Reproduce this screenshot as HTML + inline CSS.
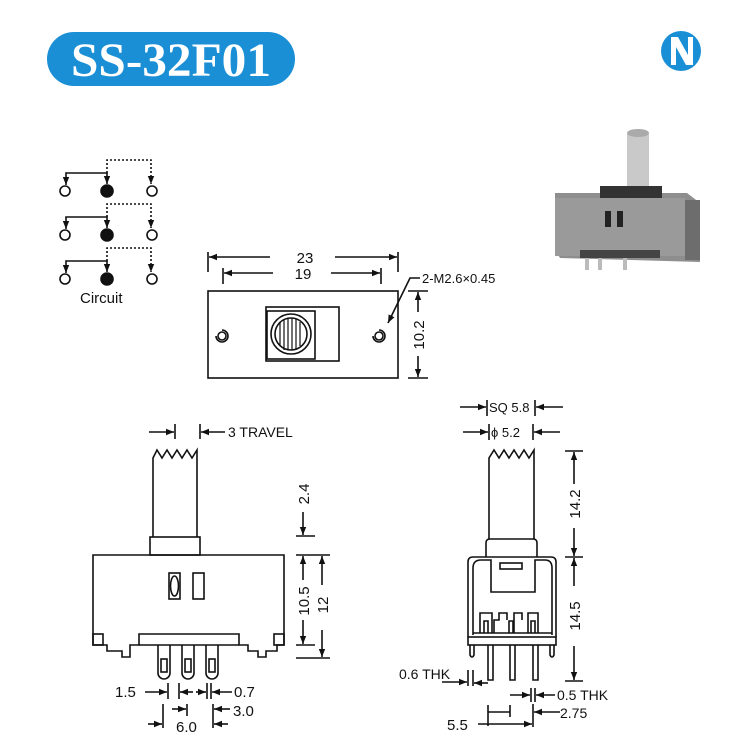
<!DOCTYPE html>
<html><head><meta charset="utf-8"><style>
html,body{margin:0;padding:0;background:#fff;}
svg{display:block;}
text{font-family:"Liberation Sans",sans-serif;fill:#111;}
</style></head><body>
<svg width="735" height="744" viewBox="0 0 735 744" xmlns="http://www.w3.org/2000/svg">
<defs>
<marker id="a" viewBox="0 0 10 10" refX="10" refY="5" markerWidth="7" markerHeight="5" orient="auto-start-reverse"><path d="M0,1 L10,5 L0,9z" fill="#111"/></marker>
</defs>
<!-- title -->
<rect x="47" y="32" width="248" height="54" rx="27" fill="#1a8fd6"/>
<text x="171" y="76" text-anchor="middle" textLength="200" lengthAdjust="spacingAndGlyphs" style="font-family:'Liberation Serif',serif;font-weight:bold;font-size:48px;fill:#fff">SS-32F01</text>
<!-- logo -->
<circle cx="681" cy="51" r="20" fill="#1a8fd6"/>
<path d="M671,37 h7 l10,18 v-18 h5 v28 h-7 l-10,-18 v18 h-5z" fill="#fff"/>
<!-- photo -->
<g>
<rect x="627" y="132" width="22" height="62" rx="3" fill="#c9c9c9"/>
<ellipse cx="638" cy="133" rx="11" ry="4" fill="#aaa"/>
<path d="M555,193 L687,193 L700,203 L700,262 L560,258 L555,250z" fill="#8e8e8e"/>
<rect x="555" y="198" width="130" height="58" fill="#9a9a9a"/>
<rect x="600" y="186" width="62" height="12" fill="#333"/>
<rect x="605" y="211" width="6" height="16" fill="#222"/>
<rect x="617" y="211" width="6" height="16" fill="#222"/>
<rect x="685" y="200" width="15" height="60" fill="#6d6d6d"/>
<rect x="580" y="250" width="80" height="8" fill="#444"/>
<path d="M587,258 v12 M600,258 v12 M625,258 v12" stroke="#bbb" stroke-width="4"/>
</g>
<g fill="none" stroke="#111" stroke-width="1.6">
<!-- circuit -->
<g id="r1">
<circle cx="65" cy="191" r="5" fill="#fff"/><circle cx="107" cy="191" r="6" fill="#111"/><circle cx="152" cy="191" r="5" fill="#fff"/>
<path d="M66,185 V173 H107 V184" marker-start="url(#a)" marker-end="url(#a)"/>
<path d="M107,173 V160 H151 V184" stroke-dasharray="2,2" marker-end="url(#a)"/>
</g>
<use href="#r1" y="44"/>
<use href="#r1" y="88"/>
<!-- top view -->
<rect x="208" y="291" width="190" height="87"/>
<rect x="266" y="307" width="73" height="54"/>
<rect x="267" y="311" width="48" height="48"/>
<circle cx="291" cy="334" r="20"/><circle cx="291" cy="334" r="16"/>
<path d="M280,322v24M284,319v31M288,318v32M292,318v32M296,319v31M300,322v24" stroke-width="1.2"/>
<circle cx="222" cy="336" r="4"/><path d="M216,336 a6,6 0 1,0 6,-6"/>
<circle cx="379" cy="336" r="4"/><path d="M373,336 a6,6 0 1,0 6,-6"/>
<path d="M208,252 V272 M398,252 V272 M223,268V284 M381,268V284"/>
<path d="M270,257 H209" marker-end="url(#a)"/><path d="M335,257 H397" marker-end="url(#a)"/>
<path d="M273,273 H224" marker-end="url(#a)"/><path d="M331,273 H380" marker-end="url(#a)"/>
<path d="M420,278 H410 L388,323" marker-end="url(#a)"/>
<path d="M408,291 H428 M408,378 H428"/>
<path d="M418,312 V292" marker-end="url(#a)"/><path d="M418,356 V377" marker-end="url(#a)"/>
<!-- side view -->
<path d="M153,537 V458 L157,450 L162,458 L167,450 L172,458 L177,450 L182,458 L187,450 L192,458 L197,450 V537"/>
<rect x="150" y="537" width="50" height="18"/>
<path d="M93,555 H284 V645 H277 V651 H266 V657 H258 V651 H248 V645 H239 V634 H139 V645 H130 V657 H122 V651 H107 V645 H93z"/>
<rect x="93" y="634" width="10" height="11"/><rect x="274" y="634" width="10" height="11"/>
<path d="M139,645 H239"/>
<rect x="169" y="573" width="11" height="26"/><ellipse cx="174.5" cy="586" rx="4" ry="10"/>
<rect x="193" y="573" width="11" height="26"/>
<path d="M158,645 V673 a6,6 0 0,0 12,0 V645 M182,645 V673 a6,6 0 0,0 12,0 V645 M206,645 V673 a6,6 0 0,0 12,0 V645"/>
<rect x="161" y="659" width="6" height="13"/><rect x="185" y="659" width="6" height="13"/><rect x="209" y="659" width="6" height="13"/>
<path d="M175,424 V439 M200,424 V439"/>
<path d="M149,432 H174" marker-end="url(#a)"/><path d="M225,432 H201" marker-end="url(#a)"/>
<path d="M296,536 H315 M296,555 H330 M296,658 H330"/>
<path d="M303,512 V535" marker-end="url(#a)"/>
<path d="M303,580 V556" marker-end="url(#a)"/><path d="M303,620 V644" marker-end="url(#a)"/>
<path d="M296,645 H315"/>
<path d="M322,585 V556" marker-end="url(#a)"/><path d="M322,630 V657" marker-end="url(#a)"/>
<path d="M168,683V699 M179,683V699 M207,683V699 M211,683V699"/>
<path d="M145,692 H167" marker-end="url(#a)"/><path d="M193,692 H180" marker-end="url(#a)"/>
<path d="M196,692 H206" marker-end="url(#a)"/><path d="M232,692 H212" marker-end="url(#a)"/>
<path d="M163,704V728 M187,704V716 M213,704V728"/>
<path d="M172,709 H186" marker-end="url(#a)"/>
<path d="M230,709 H214" marker-end="url(#a)"/>
<path d="M148,724 H162" marker-end="url(#a)"/>
<path d="M228,724 H214" marker-end="url(#a)"/>
<!-- front view -->
<path d="M489,539 V458 L494,450 L499,458 L504,450 L509,458 L514,450 L519,458 L524,450 L529,458 L534,450 V539"/>
<path d="M486,557 V543 q0,-4 4,-4 h43 q4,0 4,4 v14"/>
<path d="M468,637 V562 q0,-5 5,-5 h78 q5,0 5,5 V637 M473,635 V568 q0,-8 8,-8 h10 V592 H535 V560 h10 q7,0 7,8 V635"/>
<rect x="500" y="563" width="22" height="6"/>
<path d="M480,633 V613 H492 V633 M494,633 V620 H499 V613 H507 V620 M514,633 V613 H522 V620 M528,633 V613 H538 V633 M484,633V621H488V633 M509,633V621H513V633 M531,633V621H535V633"/>
<path d="M473,633 H552"/>
<rect x="468" y="637" width="88" height="8"/>
<path d="M470,645 V655 q2,4 4,0 V645 M550,645 V655 q2,4 4,0 V645"/>
<path d="M488,645 V680 H493 V645 M510,645 V680 H515 V645 M533,645 V680 H538 V645"/>
<path d="M487,400V416 M535,400V416 M489,424V440 M533,424V440"/>
<path d="M460,407 H486" marker-end="url(#a)"/><path d="M563,407 H536" marker-end="url(#a)"/>
<path d="M463,432 H488" marker-end="url(#a)"/><path d="M560,432 H534" marker-end="url(#a)"/>
<path d="M565,451 H583 M565,557 H583 M565,681 H583"/>
<path d="M574,484 V452" marker-end="url(#a)"/><path d="M574,528 V556" marker-end="url(#a)"/>
<path d="M574,586 V558" marker-end="url(#a)"/><path d="M574,646 V680" marker-end="url(#a)"/>
<path d="M468,670V686 M473,670V686 M531,688V702 M535,688V702"/>
<path d="M442,682 H467" marker-end="url(#a)"/><path d="M488,683 H474" marker-end="url(#a)"/>
<path d="M510,695 H530" marker-end="url(#a)"/><path d="M555,695 H536" marker-end="url(#a)"/>
<path d="M488,705V726 M510,705V717 M533,704V727"/>
<path d="M488,712 H510"/><path d="M560,712 H534" marker-end="url(#a)"/>
<path d="M478,724 H532" marker-end="url(#a)"/>
</g>
<text x="80" y="303" font-size="15">Circuit</text>
<text x="305" y="263" font-size="15" text-anchor="middle">23</text>
<text x="303" y="279" font-size="15" text-anchor="middle">19</text>
<text x="422" y="283" font-size="13">2-M2.6×0.45</text>
<text transform="translate(424,335) rotate(-90)" font-size="15" text-anchor="middle">10.2</text>
<text x="228" y="437" font-size="14">3 TRAVEL</text>
<text transform="translate(309,494) rotate(-90)" font-size="15" text-anchor="middle">2.4</text>
<text transform="translate(309,601) rotate(-90)" font-size="15" text-anchor="middle">10.5</text>
<text x="0" y="0" transform="translate(328,605) rotate(-90)" font-size="15" text-anchor="middle">12</text>
<text x="115" y="697" font-size="15">1.5</text>
<text x="234" y="697" font-size="15">0.7</text>
<text x="233" y="716" font-size="15">3.0</text>
<text x="176" y="732" font-size="15">6.0</text>
<text x="489" y="412" font-size="13">SQ 5.8</text>
<text x="491" y="437" font-size="13">ϕ 5.2</text>
<text transform="translate(580,504) rotate(-90)" font-size="15" text-anchor="middle">14.2</text>
<text transform="translate(580,616) rotate(-90)" font-size="15" text-anchor="middle">14.5</text>
<text x="399" y="679" font-size="14">0.6 THK</text>
<text x="557" y="700" font-size="14">0.5 THK</text>
<text x="560" y="718" font-size="14">2.75</text>
<text x="447" y="730" font-size="15">5.5</text>
</svg>
</body></html>
